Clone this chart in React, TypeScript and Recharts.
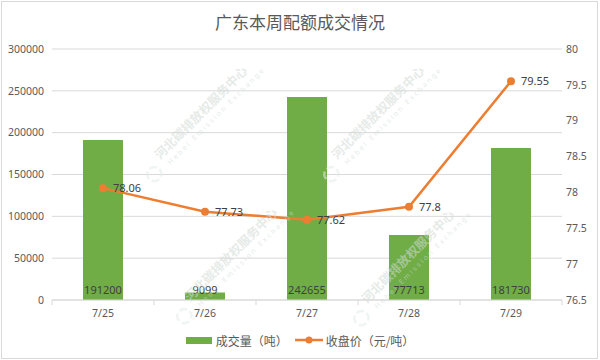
import { ComposedChart, Bar, Line, XAxis, YAxis, CartesianGrid, Legend, LabelList } from 'recharts';

const dates = ['7/25', '7/26', '7/27', '7/28', '7/29'];
const volume = [191200, 9099, 242655, 77713, 181730];
const closePrice = [78.06, 77.73, 77.62, 77.8, 79.55];
const volumeTicks = [0, 50000, 100000, 150000, 200000, 250000, 300000];
const priceTicks = [76.5, 77, 77.5, 78, 78.5, 79, 79.5, 80];

const data = dates.map((date, i) => ({ date, volume: volume[i], price: closePrice[i] }));

const W = 600;
const H = 360;
const LEFT_W = 52;
const RIGHT_W = 38;
const BAND = (W - LEFT_W - RIGHT_W) / dates.length;
const FONT = '"Noto Sans", "Noto Sans CJK SC", sans-serif';
const CJK = '"Noto Sans CJK SC", sans-serif';
const TEXT = '#595959';
const GRID = '#d9d9d9';
const GREEN = '#70ad47';
const ORANGE = '#ed7d31';

if (typeof document !== 'undefined') document.body.style.margin = '0';

function DateTick(props: any) {
  const { x, y, payload, index } = props;
  return (
    <g>
      <line x1={x - BAND / 2} x2={x - BAND / 2} y1={y} y2={y + 5} stroke={GRID} />
      {index === dates.length - 1 && <line x1={x + BAND / 2} x2={x + BAND / 2} y1={y} y2={y + 5} stroke={GRID} />}
      <text x={x} y={y + 17} textAnchor="middle" fill={TEXT} fontSize={10.5} fontFamily={FONT}>
        {payload.value}
      </text>
    </g>
  );
}

function LegendContent() {
  return (
    <div style={{ height: 20, display: 'flex', justifyContent: 'center', alignItems: 'center', fontSize: 12, color: TEXT, fontFamily: CJK }}>
      <span style={{ display: 'inline-block', width: 26, height: 7, background: GREEN, marginRight: 4 }} />
      <span>成交量（吨）</span>
      <svg width={28} height={10} style={{ margin: '0 3px 0 7px' }}>
        <line x1={0} x2={28} y1={5} y2={5} stroke={ORANGE} strokeWidth={2.5} />
        <circle cx={14} cy={5} r={3.5} fill={ORANGE} />
      </svg>
      <span>收盘价（元/吨）</span>
    </div>
  );
}

// faint watermark from the source image
const marks = [
  [160, 160],
  [337, 160],
  [190, 302],
  [367, 304],
];

function Watermark() {
  return (
    <svg width={W} height={H} style={{ position: 'absolute', left: 0, top: 0, pointerEvents: 'none' }}>
      {marks.map(([mx, my], i) => (
        <g key={i} transform={`rotate(-45 ${mx} ${my})`} opacity={0.55}>
          <circle cx={mx - 14} cy={my + 6} r={7} fill="none" stroke="#e2eee8" strokeWidth={2.5} strokeDasharray="8 3" />
          <text x={mx} y={my} fill="#d2dbd6" fontSize={12.5} fontWeight="bold" fontFamily={CJK}>
            河北碳排放权服务中心
          </text>
          <text x={mx + 4} y={my + 11} fill="#d2dbd6" fontSize={7} letterSpacing={2.2} fontFamily={FONT}>
            Hebei Emission Exchange
          </text>
        </g>
      ))}
    </svg>
  );
}

export default function App() {
  return (
    <div style={{ position: 'absolute', left: 0, top: 0, width: W, height: H, background: '#fff' }}>
      <div style={{ position: 'absolute', left: 1, top: 1, width: 597, height: 358, border: `1px solid ${GRID}`, boxSizing: 'border-box' }} />
      <div style={{ position: 'absolute', left: 0, top: 9, width: W, textAlign: 'center', fontSize: 17, color: TEXT, fontFamily: CJK }}>
        广东本周配额成交情况
      </div>
      <ComposedChart width={W} height={H} data={data} margin={{ top: 49, right: 0, left: 0, bottom: 0 }}>
        <CartesianGrid yAxisId="left" vertical={false} stroke={GRID} />
        <XAxis
          dataKey="date"
          height={40}
          axisLine={{ stroke: GRID }}
          tickLine={false}
          tickSize={0}
          tickMargin={0}
          tick={<DateTick />}
        />
        <YAxis
          yAxisId="left"
          width={LEFT_W}
          domain={[0, 300000]}
          ticks={volumeTicks}
          axisLine={false}
          tickLine={false}
          tickSize={0}
          tickMargin={8}
          tick={{ fontSize: 10.5, fill: TEXT, fontFamily: FONT }}
        />
        <YAxis
          yAxisId="right"
          orientation="right"
          width={RIGHT_W}
          domain={[76.5, 80]}
          ticks={priceTicks}
          axisLine={false}
          tickLine={false}
          tickSize={0}
          tickMargin={4}
          tick={{ fontSize: 10.5, fill: TEXT, fontFamily: FONT, textAnchor: 'start' }}
        />
        <Legend verticalAlign="bottom" content={<LegendContent />} wrapperStyle={{ bottom: 10 }} />
        <Bar yAxisId="left" dataKey="volume" name="成交量（吨）" fill={GREEN} barSize={40} isAnimationActive={false}>
          <LabelList dataKey="volume" position="insideBottom" offset={6} fill="#404040" fontSize={11} fontFamily={FONT} />
        </Bar>
        <Line
          yAxisId="right"
          dataKey="price"
          name="收盘价（元/吨）"
          type="linear"
          stroke={ORANGE}
          strokeWidth={2.5}
          dot={{ r: 4, fill: ORANGE, stroke: ORANGE, strokeWidth: 0 }}
          isAnimationActive={false}
        >
          <LabelList dataKey="price" position="right" offset={10} fill="#404040" fontSize={11} fontFamily={FONT} />
        </Line>
      </ComposedChart>
      <Watermark />
    </div>
  );
}
